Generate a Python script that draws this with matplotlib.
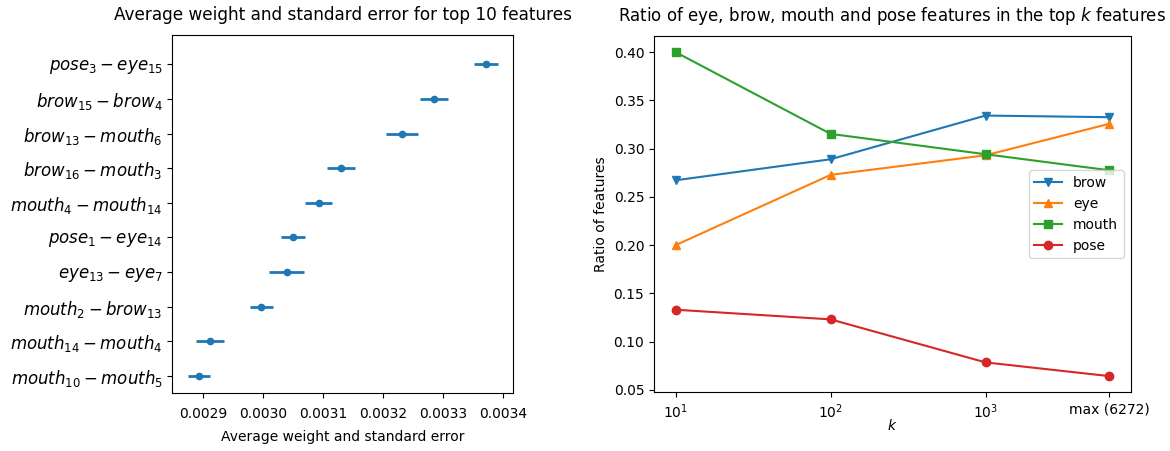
import matplotlib
matplotlib.use("Agg")
import matplotlib.pyplot as plt
import numpy as np

# ---- Left panel data (bottom to top) ----
feature_labels = [
    r"$mouth_{10} - mouth_{5}$",
    r"$mouth_{14} - mouth_{4}$",
    r"$mouth_{2} - brow_{13}$",
    r"$eye_{13} - eye_{7}$",
    r"$pose_{1} - eye_{14}$",
    r"$mouth_{4} - mouth_{14}$",
    r"$brow_{16} - mouth_{3}$",
    r"$brow_{13} - mouth_{6}$",
    r"$brow_{15} - brow_{4}$",
    r"$pose_{3} - eye_{15}$",
]
avg_weight = [0.002893, 0.002911, 0.002997, 0.003039, 0.003050,
              0.003093, 0.003130, 0.003232, 0.003285, 0.003372]
std_error = [0.0000187, 0.0000233, 0.0000192, 0.0000295, 0.0000197,
             0.0000225, 0.0000233, 0.0000267, 0.0000236, 0.0000194]

# ---- Right panel data ----
k_values = [10, 100, 1000, 6272]
k_ticklabels = [r"$10^1$", r"$10^2$", r"$10^3$", "max (6272)"]
brow = [0.2672, 0.2890, 0.3343, 0.3326]
eye = [0.2000, 0.2728, 0.2931, 0.3257]
mouth = [0.4000, 0.3153, 0.2942, 0.2776]
pose = [0.1330, 0.1230, 0.0784, 0.0642]

fig = plt.figure(figsize=(11.7, 4.51), dpi=100)
ax1 = fig.add_axes([0.1474, 0.1293, 0.2911, 0.7931])
ax2 = fig.add_axes([0.5590, 0.1302, 0.4074, 0.7900])

ypos = np.arange(len(feature_labels))
ax1.errorbar(avg_weight, ypos, xerr=std_error, fmt='o', color='#1f77b4',
             markersize=4.5, elinewidth=2, capsize=0)
ax1.set_yticks(ypos)
ax1.set_yticklabels(feature_labels, fontsize=12)
ax1.set_ylim(-0.49, 9.85)
ax1.set_xticks([0.0029, 0.0030, 0.0031, 0.0032, 0.0033, 0.0034])
ax1.set_xticklabels(["0.0029", "0.0030", "0.0031", "0.0032", "0.0033", "0.0034"])
ax1.tick_params(axis='x', pad=7)
ax1.set_xlabel("Average weight and standard error", labelpad=6)
ax1.set_title("Average weight and standard error for top 10 features", pad=11,
              fontsize=12.2)

ax2.plot(k_values, brow, marker='v', color='#1f77b4', label='brow')
ax2.plot(k_values, eye, marker='^', color='#ff7f0e', label='eye')
ax2.plot(k_values, mouth, marker='s', color='#2ca02c', label='mouth')
ax2.plot(k_values, pose, marker='o', color='#d62728', label='pose')
ax2.set_xscale('log')
ax2.set_xticks(k_values)
ax2.set_xticklabels(k_ticklabels)
ax2.minorticks_off()
ax2.xaxis.set_minor_locator(matplotlib.ticker.NullLocator())
ax2.set_yticks([0.05, 0.10, 0.15, 0.20, 0.25, 0.30, 0.35, 0.40])
ax2.set_xlabel(r"$k$", labelpad=-2)
ax2.set_ylabel("Ratio of features")
ax2.set_title(r"Ratio of eye, brow, mouth and pose features in the top $k$ features", pad=11)
ax2.legend(loc='center right')

fig.savefig("out.png", dpi=100)
